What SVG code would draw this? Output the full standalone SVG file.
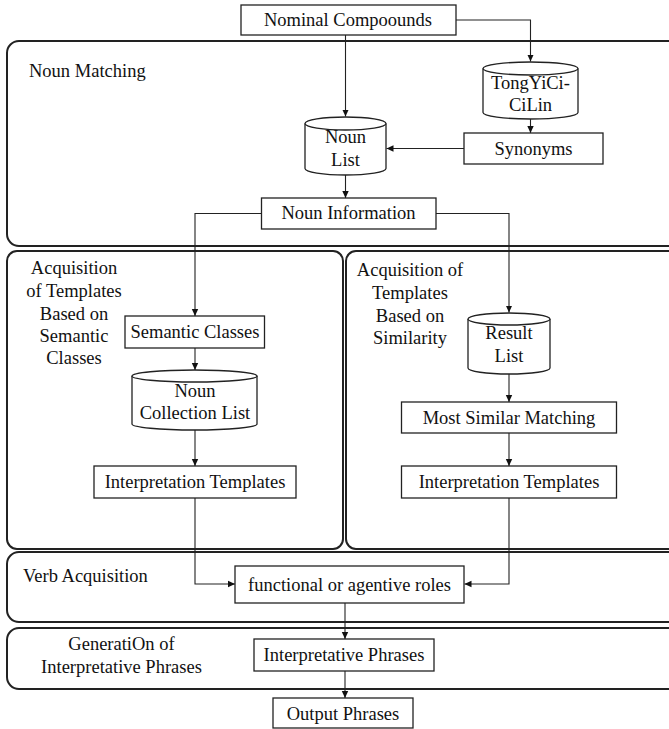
<svg xmlns="http://www.w3.org/2000/svg" width="669" height="729" viewBox="0 0 669 729">
<style>
text{font-family:'Liberation Serif','DejaVu Serif',serif;font-size:18.5px;fill:#111}
.c{text-anchor:middle}
.box{fill:#fff;stroke:#222;stroke-width:1.3}
.sec{fill:none;stroke:#222;stroke-width:2}
.cyl{fill:#fff;stroke:#222;stroke-width:1.3}
.ln{fill:none;stroke:#222;stroke-width:1.1}
</style>
<defs>
<marker id="ah" markerUnits="userSpaceOnUse" markerWidth="8" markerHeight="8" refX="7" refY="4" orient="auto">
<path d="M0,0.8 L7,4 L0,7.2 Z" fill="#111"/>
</marker>
</defs>
<g id="sections" font-family="Liberation Serif, serif">
<rect id="sec-noun-matching" class="sec" x="7" y="41" width="680" height="205" rx="12"/>
<rect id="sec-acq-semantic" class="sec" x="7" y="251" width="336" height="298" rx="10"/>
<rect id="sec-acq-similarity" class="sec" x="346" y="251" width="340" height="298" rx="10"/>
<rect id="sec-verb" class="sec" x="7" y="552" width="680" height="70" rx="12"/>
<rect id="sec-generation" class="sec" x="7" y="628" width="680" height="61" rx="12"/>
<text x="29" y="77">Noun Matching</text>
<text class="c" x="74" y="274">Acquisition</text>
<text class="c" x="74" y="297">of Templates</text>
<text class="c" x="74" y="320">Based on</text>
<text class="c" x="74" y="342">Semantic</text>
<text class="c" x="74" y="364">Classes</text>
<text class="c" x="410" y="276">Acquisition of</text>
<text class="c" x="410" y="299">Templates</text>
<text class="c" x="410" y="322">Based on</text>
<text class="c" x="410" y="344">Similarity</text>
<text x="23" y="582">Verb Acquisition</text>
<text class="c" x="121.5" y="650">GeneratiOn of</text>
<text class="c" x="121.5" y="673">Interpretative Phrases</text>
</g>
<g id="connectors">
<path class="ln" d="M345.5,35 V116.5" marker-end="url(#ah)"/>
<path class="ln" d="M456,20 H530.5 V61.5" marker-end="url(#ah)"/>
<path class="ln" d="M530.5,119 V133" marker-end="url(#ah)"/>
<path class="ln" d="M464,148.5 H386.5" marker-end="url(#ah)"/>
<path class="ln" d="M345.5,175 V198" marker-end="url(#ah)"/>
<path class="ln" d="M261.5,213.5 H195 V316" marker-end="url(#ah)"/>
<path class="ln" d="M436,213.5 H509 V312.5" marker-end="url(#ah)"/>
<path class="ln" d="M195,348 V370" marker-end="url(#ah)"/>
<path class="ln" d="M195,430 V466" marker-end="url(#ah)"/>
<path class="ln" d="M509,374 V402" marker-end="url(#ah)"/>
<path class="ln" d="M509,433 V466" marker-end="url(#ah)"/>
<path class="ln" d="M195,498 V584 H235" marker-end="url(#ah)"/>
<path class="ln" d="M509,498 V584 H464.5" marker-end="url(#ah)"/>
<path class="ln" d="M345,603 V639" marker-end="url(#ah)"/>
<path class="ln" d="M345,671 V698" marker-end="url(#ah)"/>
</g>
<g id="nominal-compounds">
<rect class="box" x="241" y="5" width="215" height="30"/>
<text class="c" x="348" y="26">Nominal Compoounds</text>
</g>
<g id="tongyici-cilin">
<path class="cyl" d="M483,68.5 V112.5 A47.5,6.5 0 0 0 578,112.5 V68.5"/>
<ellipse class="cyl" cx="530.5" cy="68.5" rx="47.5" ry="6.5"/>
<text class="c" x="530.5" y="89">TongYiCi-</text>
<text class="c" x="530.5" y="111">CiLin</text>
</g>
<g id="synonyms">
<rect class="box" x="464" y="133" width="139" height="31"/>
<text class="c" x="533.5" y="155">Synonyms</text>
</g>
<g id="noun-list">
<path class="cyl" d="M305,123.5 V168.5 A40.5,6.5 0 0 0 386,168.5 V123.5"/>
<ellipse class="cyl" cx="345.5" cy="123.5" rx="40.5" ry="6.5"/>
<text class="c" x="345.5" y="143">Noun</text>
<text class="c" x="345.5" y="166">List</text>
</g>
<g id="noun-information">
<rect class="box" x="261.5" y="198" width="174.5" height="31"/>
<text class="c" x="348.5" y="219">Noun Information</text>
</g>
<g id="semantic-classes">
<rect class="box" x="125" y="316" width="139.5" height="32"/>
<text class="c" x="195" y="338">Semantic Classes</text>
</g>
<g id="noun-collection-list">
<path class="cyl" d="M132,376 V424 A62.5,6 0 0 0 257,424 V376"/>
<ellipse class="cyl" cx="194.5" cy="376" rx="62.5" ry="6"/>
<text class="c" x="195" y="397">Noun</text>
<text class="c" x="195" y="419">Collection List</text>
</g>
<g id="interpretation-templates-left">
<rect class="box" x="94" y="466" width="202" height="32"/>
<text class="c" x="195" y="488">Interpretation Templates</text>
</g>
<g id="result-list">
<path class="cyl" d="M468,319 V368 A41,6 0 0 0 550,368 V319"/>
<ellipse class="cyl" cx="509" cy="319" rx="41" ry="6"/>
<text class="c" x="509" y="339">Result</text>
<text class="c" x="509" y="362">List</text>
</g>
<g id="most-similar-matching">
<rect class="box" x="401.5" y="402" width="215" height="31"/>
<text class="c" x="509" y="424">Most Similar Matching</text>
</g>
<g id="interpretation-templates-right">
<rect class="box" x="401.5" y="466" width="215" height="32"/>
<text class="c" x="509" y="488">Interpretation Templates</text>
</g>
<g id="functional-roles">
<rect class="box" x="235" y="566" width="229" height="37"/>
<text class="c" x="349.5" y="591">functional or agentive roles</text>
</g>
<g id="interpretative-phrases">
<rect class="box" x="254" y="639" width="180" height="32"/>
<text class="c" x="344" y="661">Interpretative Phrases</text>
</g>
<g id="output-phrases">
<rect class="box" x="273" y="698" width="140" height="30"/>
<text class="c" x="343" y="720">Output Phrases</text>
</g>
</svg>
